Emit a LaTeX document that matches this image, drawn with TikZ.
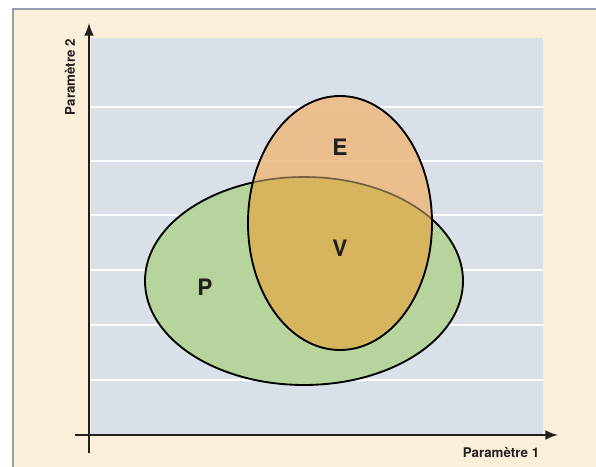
\documentclass[tikz,border=0pt]{standalone}
\usepackage{fontspec}
\setmainfont{TeX Gyre Heros}
\usepackage{xcolor}
\usetikzlibrary{positioning}
\definecolor{beige}{RGB}{252,239,218}
\definecolor{panel}{RGB}{217,224,231}
\definecolor{frameline}{RGB}{150,160,170}
\definecolor{axisink}{RGB}{35,31,32}
\definecolor{pgreen}{RGB}{180,211,150}
\definecolor{eorange}{RGB}{237,187,133}
\definecolor{vgold}{RGB}{214,180,90}

\begin{document}
\begin{tikzpicture}[x=0.75pt, y=0.75pt, >=latex,
    every node/.style={font=\bfseries\fontsize{10}{12}\selectfont, text=axisink},
    zone/.style={font=\bfseries\fontsize{17}{20}\selectfont},
    axisline/.style={axisink, line width=2.2pt}]
  \useasboundingbox (0,0) rectangle (596,467);
  \fill[beige] (13,0) rectangle (596,458);
  \draw[frameline, line width=1.1pt] (13,0) -- (13,458) -- (596,458);
  \fill[panel] (91,32) rectangle (543,429);
  \foreach \y in {87,142,197,252,306,360}
    \draw[white, line width=1.5pt] (91,\y) -- (543,\y);
  % zones P and E
  \fill[pgreen, opacity=0.92] (304,186) ellipse (159 and 104);
  \draw[line width=1.4pt] (304,186) ellipse (159 and 104);
  \fill[eorange, opacity=0.9] (340,244) ellipse (92 and 127);
  \begin{scope}
    \clip (340,244) ellipse (92 and 127);
    \fill[vgold, opacity=0.9] (304,186) ellipse (159 and 104);
    \draw[axisink, line width=1.2pt, opacity=0.55] (304,186) ellipse (159 and 104);
  \end{scope}
  \draw[line width=1.4pt] (340,244) ellipse (92 and 127);
  \node[zone] (labelE) at (340,320) {E};
  \node[zone] (labelV) at (340,219) {V};
  \node[zone] (labelP) at (205,180) {P};
  % axes
  \coordinate (yfoot) at (89,14);
  \coordinate (ytop) at (89,444);
  \coordinate (xfoot) at (75,32);
  \coordinate (xtip) at (558,32);
  \draw[axisline, ->] (yfoot) -- (ytop);
  \draw[axisline, ->] (xfoot) -- (xtip);
  \node[rotate=90] (param2) at (70,390) {Paramètre 2};
  \node (param1) at (501,14) {Paramètre 1};
\end{tikzpicture}
\end{document}
